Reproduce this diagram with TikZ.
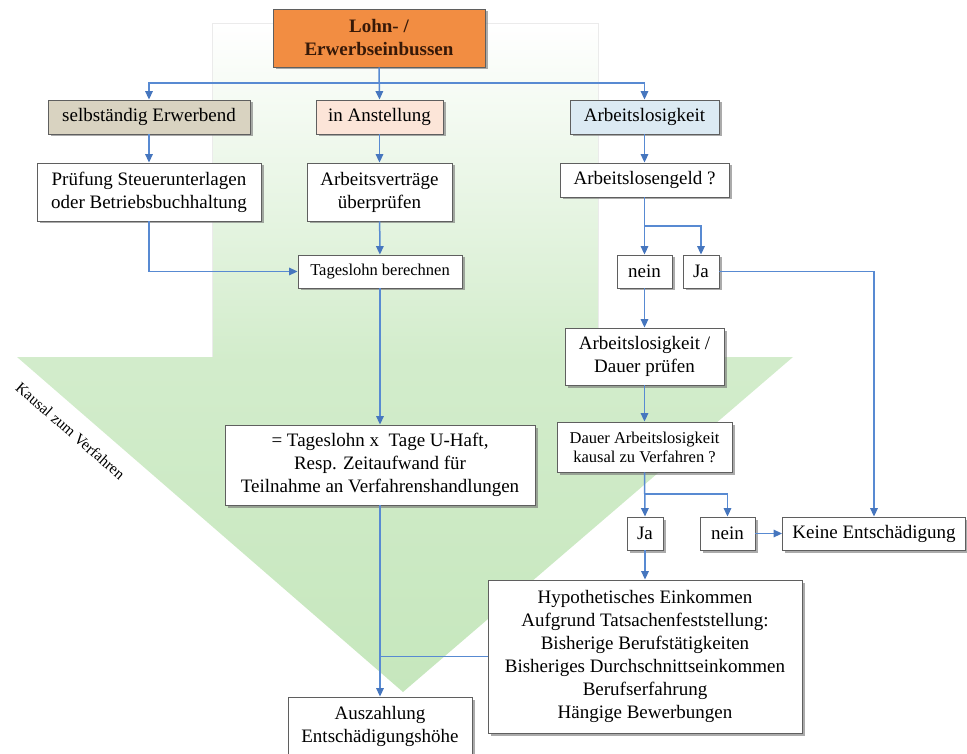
\documentclass[tikz,border=0pt]{standalone}
\usepackage{fontspec}
\setmainfont{Liberation Serif}
\usetikzlibrary{arrows.meta,shadows}
\definecolor{linecol}{RGB}{88,138,210}
\definecolor{tipcol}{RGB}{70,118,190}
\definecolor{boxline}{RGB}{95,95,95}
\definecolor{orangefill}{RGB}{242,141,66}
\definecolor{lohntext}{RGB}{55,25,8}
\definecolor{tanfill}{RGB}{217,211,193}
\definecolor{peachfill}{RGB}{252,229,216}
\definecolor{bluefill}{RGB}{220,234,243}
\definecolor{arrowgreen}{RGB}{198,231,189}
\tikzset{
  fbox/.style={rectangle, draw=boxline, line width=0.8pt, fill=white, align=center,
    inner sep=2pt, font=\fontsize{19}{23}\selectfont,
    drop shadow={shadow xshift=2.5pt, shadow yshift=-2.5pt, opacity=0.6, fill=black!55}},
  sbox/.style={fbox, font=\fontsize{16.5}{19}\selectfont},
  conn/.style={draw=linecol, line width=1.5pt},
  arr/.style={conn, -{Triangle[width=7.5pt,length=8.5pt,color=tipcol]}},
  wh/.style 2 args={minimum width=#1pt, minimum height=#2pt}
}
\begin{document}
\begin{tikzpicture}[x=1pt,y=-1pt]
\useasboundingbox (0,0) rectangle (967,754);
% background arrow
\shade[top color=white, bottom color=arrowgreen, middle color=arrowgreen!78!white]
  (212,23) -- (598,23) -- (598,357) -- (793,357) -- (403,692) -- (17,357) -- (212,357) -- cycle;
\draw[black!8, line width=0.6pt] (212,357) -- (212,23) -- (598,23) -- (598,357);
\node[rotate=-41, font=\fontsize{15.5}{18}\selectfont, anchor=south, inner sep=1pt] (kz) at (66,436) {Kausal zum Verfahren};

% nodes
\node[fbox, wh={212}{58}, fill=orangefill, text=lohntext, font=\bfseries\fontsize{19}{23}\selectfont] (lohn) at (379,38) {Lohn- /\\Erwerbseinbussen};
\node[fbox, wh={202}{34}, fill=tanfill] (selb) at (149,117) {selbständig Erwerbend};
\node[fbox, wh={127}{34}, fill=peachfill] (anst) at (379.5,117) {in Anstellung};
\node[fbox, wh={149}{34}, fill=bluefill] (arbl) at (644.5,117) {Arbeitslosigkeit};
\node[fbox, wh={224}{58}] (pruef) at (149,192) {Prüfung Steuerunterlagen\\oder Betriebsbuchhaltung};
\node[fbox, wh={145}{58}] (vertr) at (379.5,192) {Arbeitsverträge\\überprüfen};
\node[fbox, wh={169}{34}] (geld) at (644.5,180) {Arbeitslosengeld ?};
\node[sbox, wh={164}{33}] (tages) at (380,271.5) {Tageslohn berechnen};
\node[fbox, wh={55}{33}] (nein1) at (644.5,271.5) {nein};
\node[fbox, wh={36}{33}] (ja1) at (701,271.5) {Ja};
\node[fbox, wh={159}{57}] (dauerp) at (644.5,356.5) {Arbeitslosigkeit /\\Dauer prüfen};
\node[sbox, wh={175}{50}] (kausal) at (644.5,447) {Dauer Arbeitslosigkeit\\kausal zu Verfahren ?};
\node[fbox, wh={36}{33}] (ja2) at (645,533.5) {Ja};
\node[fbox, wh={55}{33}] (nein2) at (727.5,533.5) {nein};
\node[fbox, wh={183}{33}] (keine) at (874,533.5) {Keine Entschädigung};
\node[fbox, wh={310}{80}] (formel) at (380,465) {= Tageslohn x\ \ Tage U-Haft,\\Resp. Zeitaufwand für\\Teilnahme an Verfahrenshandlungen};
\node[fbox, wh={314}{153}] (hypo) at (645,656.5) {Hypothetisches Einkommen\\Aufgrund Tatsachenfeststellung:\\Bisherige Berufstätigkeiten\\Bisheriges Durchschnittseinkommen\\Berufserfahrung\\Hängige Bewerbungen};
\node[fbox, wh={184}{58}] (ausz) at (380,726) {Auszahlung\\Entschädigungshöhe};

% connectors
\coordinate (bus) at (379,83);
\draw[arr] (lohn.south) -- (anst.north);
\draw[arr] (bus) -| (selb.north);
\draw[arr] (bus) -| (arbl.north);
\draw[arr] (selb) -- (pruef);
\draw[arr] (anst) -- (vertr);
\draw[arr] (arbl) -- (geld);
\draw[arr] (pruef.south) |- (tages.west);
\draw[arr] (vertr) -- (tages);
\draw[arr] (geld.south) -- (nein1.north);
\coordinate (br1) at (644.5,226);
\draw[arr] (br1) -| (ja1.north);
\draw[arr] (ja1.east) -| (keine.north);
\draw[arr] (nein1) -- (dauerp);
\draw[arr] (dauerp) -- (kausal);
\draw[arr] (kausal.south) -- (ja2.north);
\coordinate (br2) at (645,494);
\draw[arr] (br2) -| (nein2.north);
\draw[arr] (nein2) -- (keine);
\draw[arr] (ja2) -- (hypo);
\draw[arr] (tages) -- (formel);
\draw[arr] (formel.south) -- (ausz.north);
\coordinate (j) at (formel.south |- hypo.west);
\draw[conn] (hypo.west) -- (j);
\end{tikzpicture}
\end{document}
